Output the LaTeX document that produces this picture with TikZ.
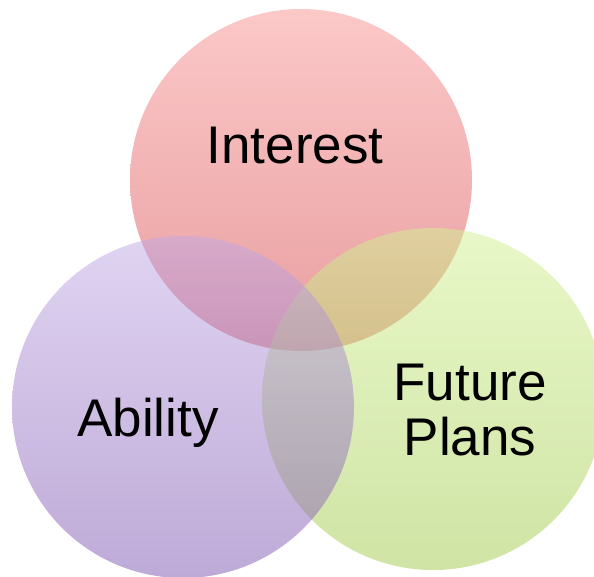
\documentclass[tikz,border=0pt]{standalone}
\usepackage{fontspec}
\setmainfont{Liberation Sans}
\usepackage{xcolor}
\usetikzlibrary{positioning}

\definecolor{interestTop}{RGB}{249,145,145}
\definecolor{interestBot}{RGB}{210,62,66}
\definecolor{plansTop}{RGB}{209,241,145}
\definecolor{plansBot}{RGB}{161,201,75}
\definecolor{abilityTop}{RGB}{193,169,229}
\definecolor{abilityBot}{RGB}{125,85,175}

\begin{document}
\begin{tikzpicture}[x=1pt, y=-1pt, font=\fontsize{53}{55}\selectfont]
    \tikzstyle{set}=[circle, minimum size=342pt, inner sep=0pt, draw=none, fill opacity=0.5]
    \tikzstyle{setlabel}=[anchor=base, inner sep=0pt, text=black, align=center]

    \useasboundingbox (0,0) rectangle (594,576);
    \clip (0,0) rectangle (594,576);

    % the three sets, drawn back to front
    \node[set, top color=interestTop, bottom color=interestBot] (interest) at (301,180) {};
    \node[set, top color=plansTop, bottom color=plansBot] (plans) at (433,399) {};
    \node[set, top color=abilityTop, bottom color=abilityBot] (ability) at (183,407) {};

    % labels sit on the baseline of their last line
    \node[setlabel] (interestText) at (295,163) {Interest};
    \node[setlabel] (abilityText) at (148,436) {Ability};
    \node[setlabel] (plansText) at (470,455) {Future\\Plans};
\end{tikzpicture}
\end{document}
